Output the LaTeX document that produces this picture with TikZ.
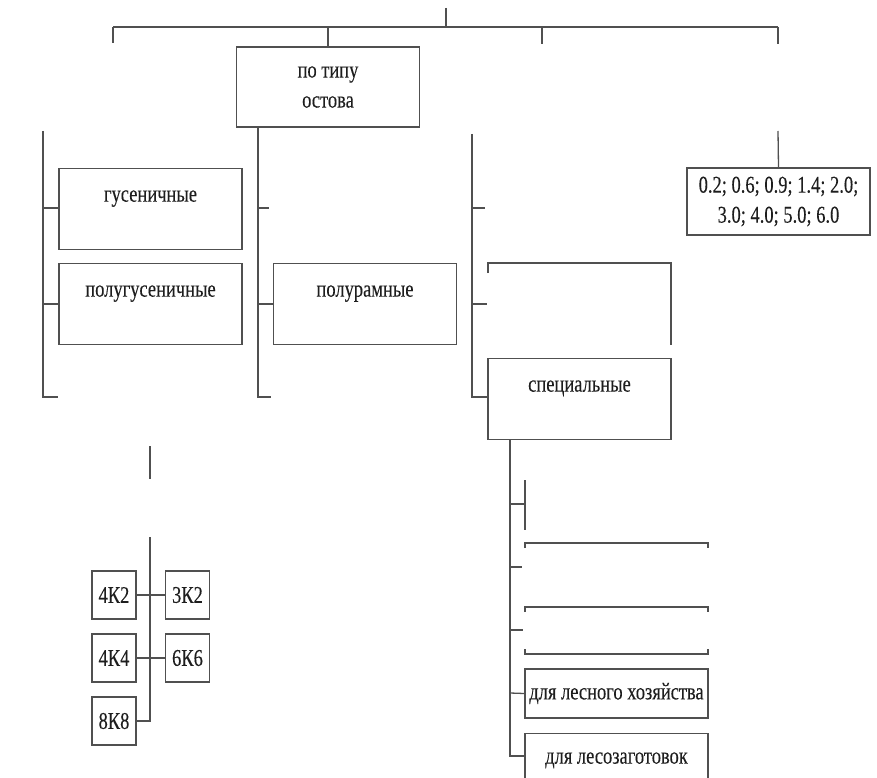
\documentclass[tikz,border=0pt]{standalone}
\usepackage{fontspec}
\setmainfont{Liberation Serif}
\newfontfamily\narrowserif[FakeStretch=0.77,FakeBold=0.15]{Liberation Serif}
\definecolor{linegray}{HTML}{505050}
\definecolor{textgray}{HTML}{1E1E1E}
\tikzset{every node/.style={font=\narrowserif\fontsize{24}{30}\selectfont,text=textgray,align=center},
  box/.style={draw=linegray,line width=1.3pt,minimum width=183pt,inner sep=0pt},
  kbox/.style={draw=linegray,line width=1.3pt,minimum width=44pt,minimum height=48pt,inner sep=0pt},
  toptext/.style={text height=33pt,text depth=48pt}}

\begin{document}
\begin{tikzpicture}[x=1pt,y=-1pt,draw=linegray,line width=1.3pt]
\useasboundingbox (0,0) rectangle (877,778);

\node[box,minimum height=80pt] (TIP) at (328,87) {по типу\\остова};
\node[box,toptext] (GUS) at (150.5,168) [anchor=north] {гусеничные};
\node[box,toptext] (PGUS) at (150.5,263) [anchor=north] {полугусеничные};
\node[box,toptext] (PRAM) at (365,263) [anchor=north] {полурамные};
\node[box,toptext] (SPEC) at (579.5,358) [anchor=north] {специальные};
\node[box,minimum height=67pt] (VAL) at (778.5,201.5) {0.2; 0.6; 0.9; 1.4; 2.0;\\3.0; 4.0; 5.0; 6.0};
\node[box,minimum height=49pt] (LES) at (616.5,693.5) {для лесного хозяйства};
\node[box,text height=30pt,text depth=30pt,anchor=north] (ZAG) at (616.5,733) {для лесозаготовок};

\node[kbox] (K42) at (114,595) {4К2};
\node[kbox] (K32) at (187.5,595) {3К2};
\node[kbox] (K44) at (114,658) {4К4};
\node[kbox] (K66) at (187.5,658) {6К6};
\node[kbox] (K88) at (114,721) {8К8};

% top bar
\draw (446,8) -- (446,27);
\draw (113,27) -- (778,27);
\draw (113,27) -- (113,43);
\draw (TIP.north |- 0,27) -- (TIP.north);
\draw (542,27) -- (542,44);
\draw (778,27) -- (778,44);
\draw (778,131) -- (VAL.north);

% left branch
\draw (43,131) -- (43,397) -- (58,397);
\draw (43,208) -- (GUS.west |- 0,208);
\draw (43,304) -- (PGUS.west |- 0,304);
\draw (150,446) -- (150,479);

% branch under TIP
\draw (258,127) -- (258,397) -- (271,397);
\draw (258,208) -- (269,208);
\draw (258,304) -- (PRAM.west |- 0,304);

% right branch
\draw (472,134) -- (472,397) -- (SPEC.west |- 0,397);
\draw (472,208) -- (485,208);
\draw (472,304) -- (487,304);
\draw (488,273) -- (488,263) -- (671,263) -- (671,345);

% under SPEC
\draw (510,439) -- (510,756) -- (ZAG.north west |- 0,756);
\draw (510,504) -- (525,504);
\draw (510,567) -- (522,567);
\draw (510,630) -- (523,630);
\draw (510,693) -- (LES.west);
\draw (525,480) -- (525,530);
\draw (525,548) -- (525,543) -- (708,543) -- (708,548);
\draw (525,612) -- (525,607) -- (708,607) -- (708,612);
\draw (525,649) -- (525,654) -- (708,654) -- (708,649);

% wheel formulas
\draw (150,537) -- (150,721) -- (K88.east);
\draw (K42.east) -- (K32.west);
\draw (K44.east) -- (K66.west);
\end{tikzpicture}
\end{document}
